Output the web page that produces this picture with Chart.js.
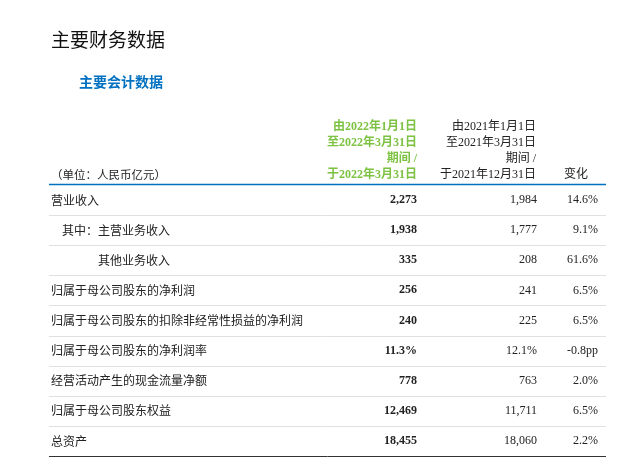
<!DOCTYPE html><html><head><meta charset="utf-8">
<script src="https://cdn.jsdelivr.net/npm/chart.js@4/dist/chart.umd.min.js"></script>
<style>html,body{margin:0;background:#fff}#w{width:641px;height:468px}</style></head><body>
<div id="w"><canvas id="c"></canvas></div>
<script>
const rowLabels=["营业收入","其中：主营业务收入","其他业务收入","归属于母公司股东的净利润","归属于母公司股东的扣除非经常性损益的净利润","归属于母公司股东的净利润率","经营活动产生的现金流量净额","归属于母公司股东权益","总资产"];
const rowIndent=[51,62,98,51,51,51,51,51,51];
const cur2022=["2,273","1,938","335","256","240","11.3%","778","12,469","18,455"];
const prev2021=["1,984","1,777","208","241","225","12.1%","763","11,711","18,060"];
const change=["14.6%","9.1%","61.6%","6.5%","6.5%","-0.8pp","2.0%","6.5%","2.2%"];
const headCur=["由2022年1月1日","至2022年3月31日","期间 /","于2022年3月31日"];
const headPrev=["由2021年1月1日","至2021年3月31日","期间 /","于2021年12月31日"];
const CJK='"Noto Sans CJK SC"';
const tablePlugin={id:'tbl',afterDraw(ch){
 const c=ch.ctx,x=ch.scales.x,y=ch.scales.y;
 c.save();c.textBaseline='middle';
 c.fillStyle='#111';c.font='19px '+CJK;c.textAlign='left';c.fillText('主要财务数据',51,40);
 c.fillStyle='#0070c0';c.font='bold 14px '+CJK;c.fillText('主要会计数据',79,82);
 c.font='11.5px '+CJK;c.fillStyle='#222';c.fillText('（单位：人民币亿元）',51,175);
 headCur.forEach((t,i)=>{c.fillStyle='#7dc242';c.font='bold 12px "Liberation Serif",'+CJK;c.textAlign='right';c.fillText(t,x.getPixelForValue(417),127+i*16);});
 headPrev.forEach((t,i)=>{c.fillStyle='#222';c.font='12px "Liberation Serif",'+CJK;c.textAlign='right';c.fillText(t,x.getPixelForValue(536),127+i*16);});
 c.fillText('变化',x.getPixelForValue(588),175);
 c.strokeStyle='#0070c0';c.lineWidth=1.5;c.beginPath();c.moveTo(49,184.5);c.lineTo(606,184.5);c.stroke();
 rowLabels.forEach((t,i)=>{
  const py=y.getPixelForValue(i);
  c.fillStyle='#222';c.textAlign='left';c.font='12px '+CJK;c.fillText(t,x.getPixelForValue(rowIndent[i]),py);
  c.textAlign='right';c.font='bold 12px "Liberation Serif"';c.fillText(cur2022[i],x.getPixelForValue(417),py);
  c.font='12px "Liberation Serif"';c.fillText(prev2021[i],x.getPixelForValue(537),py);
  c.fillText(change[i],x.getPixelForValue(598),py);
  const by=Math.round(py+15)+0.5;
  c.strokeStyle=i==rowLabels.length-1?'#333':'#d8d8d8';c.lineWidth=i==rowLabels.length-1?1:0.8;
  c.beginPath();c.moveTo(49,by);c.lineTo(606,by);c.stroke();
 });
 c.restore();}};
new Chart(document.getElementById('c'),{type:'bar',
 data:{labels:rowLabels,datasets:[{data:rowLabels.map(()=>null)}]},
 options:{responsive:true,maintainAspectRatio:false,animation:false,indexAxis:'y',
  layout:{padding:{top:185,bottom:12,left:0,right:0}},
  plugins:{legend:{display:false},tooltip:{enabled:false}},
  scales:{x:{type:'linear',min:0,max:641,display:false},y:{type:'category',offset:true,display:false}}},
 plugins:[tablePlugin]});
</script></body></html>
